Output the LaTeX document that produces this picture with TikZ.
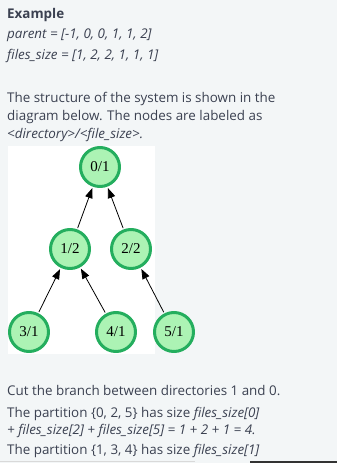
\documentclass[tikz,border=0pt]{standalone}
\usepackage{fontspec}
\setmainfont{Open Sans}
\newfontfamily\dotfont{Liberation Serif}
\usetikzlibrary{arrows.meta}

\definecolor{pagebg}{RGB}{243,246,247}
\definecolor{ink}{RGB}{59,65,81}
\definecolor{dirfill}{RGB}{172,243,180}
\definecolor{dirline}{RGB}{36,174,94}

\begin{document}
\begin{tikzpicture}[x=1pt,y=-1pt,line cap=round,line join=round,
  dir/.style={circle,draw=dirline,fill=dirfill,line width=3pt,minimum size=39pt,
    inner sep=0pt,font=\dotfont\fontsize{15}{15}\selectfont},
  txt/.style={anchor=base west,inner sep=0pt,text=ink,font=\fontsize{13.4}{13.4}\selectfont},
  up/.style={-{Triangle[length=10pt,width=7.5pt]},line width=0.8pt,shorten >=1.5pt,shorten <=1.5pt}]
  % page and the white panel behind the tree
  \fill[pagebg] (0,0) rectangle (337,463);
  \useasboundingbox (0,0) rectangle (337,463);
  \fill[white] (8,146) rectangle (155,354);

  % text above the tree
  \node[txt,font=\bfseries\fontsize{13.4}{13.4}\selectfont] (title) at (7,18) {Example};
  \node[txt] (parent) at (7,38) {\itshape parent = [-1, 0, 0, 1, 1, 2]};
  \node[txt] (sizes) at (7,59) {\itshape files\_size = [1, 2, 2, 1, 1, 1]};
  \node[txt] (intro1) at (7,102) {The structure of the system is shown in the};
  \node[txt] (intro2) at (7,120) {diagram below. The nodes are labeled as};
  \node[txt] (intro3) at (7,138) {\itshape <directory>/<file\_size>.};

  % the tree
  \node[dir] (d0) at (100,167) {0/1};
  \node[dir] (d1) at (70,249) {1/2};
  \node[dir] (d2) at (131,249) {2/2};
  \node[dir] (d3) at (29,332) {3/1};
  \node[dir] (d4) at (116,332) {4/1};
  \node[dir] (d5) at (174,332) {5/1};
  \draw[up] (d1) -- (d0);
  \draw[up] (d2) -- (d0);
  \draw[up] (d3) -- (d1);
  \draw[up] (d4) -- (d1);
  \draw[up] (d5) -- (d2);

  % text below the tree
  \node[txt] (cut) at (7,395) {Cut the branch between directories 1 and 0.};
  \node[txt] (part1) at (7,417) {The partition \{0, 2, 5\} has size \textit{files\_size[0]}};
  \node[txt] (part1b) at (7,434) {\itshape + files\_size[2] + files\_size[5] = 1 + 2 + 1 = 4.};
  \node[txt] (part2) at (7,454) {The partition \{1, 3, 4\} has size \textit{files\_size[1]}};

  % rule along the bottom edge
  \fill[black!15] (0,460.5) rectangle (195,462);
  \fill[black!80] (250,460.5) rectangle (337,463);
\end{tikzpicture}
\end{document}
